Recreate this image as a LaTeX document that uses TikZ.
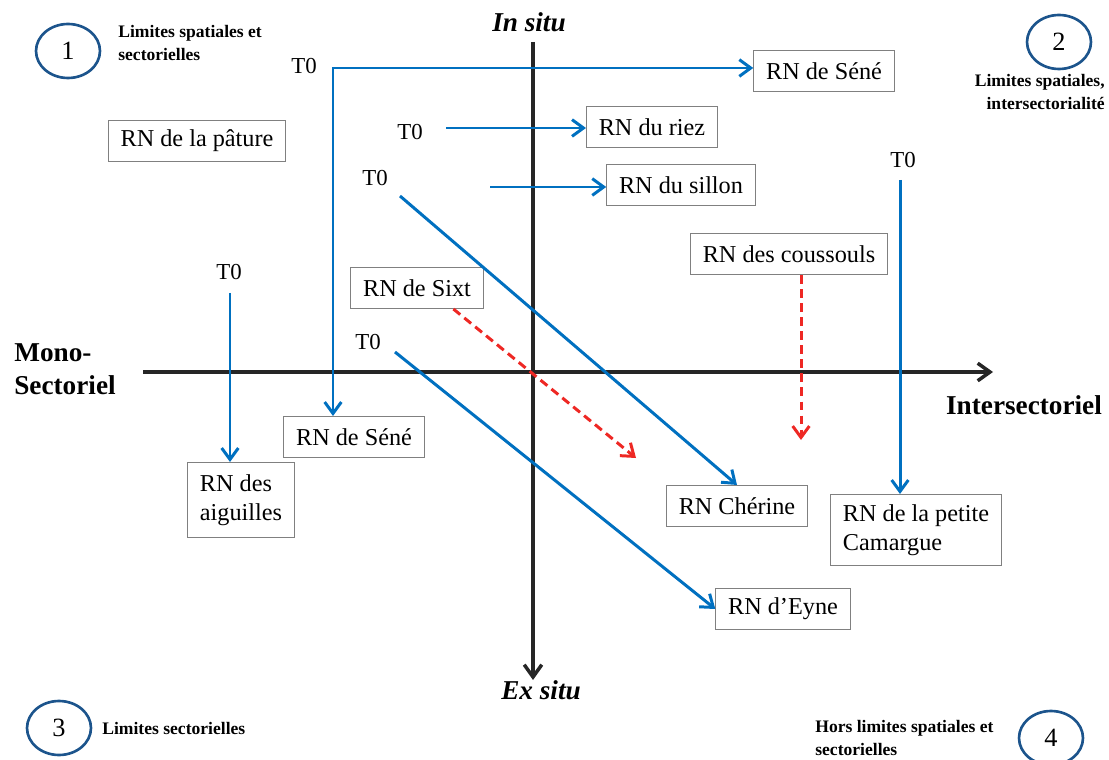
\documentclass[tikz,border=0pt]{standalone}
\usepackage{fontspec}
\setmainfont{Liberation Serif}
\usetikzlibrary{arrows.meta,shapes.geometric}
\definecolor{flowblue}{RGB}{0,112,192}
\definecolor{ringblue}{RGB}{28,84,140}
\definecolor{trendred}{RGB}{238,40,36}
\begin{document}
\begin{tikzpicture}[x=0.02cm,y=-0.02cm,
  rn/.style={draw=gray,line width=0.6pt,fill=white,inner xsep=7pt,
    minimum height=0.82cm,font=\fontsize{13.8}{16.5}\selectfont},
  tzero/.style={font=\fontsize{13}{15}\selectfont},
  ring/.style={ellipse,draw=ringblue,line width=1.5pt,minimum width=1.28cm,
    minimum height=1.08cm,inner sep=0pt,font=\fontsize{15}{17}\selectfont},
  zone/.style={font=\fontsize{10}{13}\selectfont\bfseries,inner sep=0pt},
  axislabel/.style={font=\fontsize{15.5}{19}\selectfont\bfseries,inner sep=0pt},
  tip/.style={-{Straight Barb[length=6.5pt,width=9.5pt]}},
  axis/.style={line width=2pt,black!85,-{Straight Barb[length=7pt,width=10pt]}},
  flow/.style={line width=1.7pt,flowblue,tip},
  trend/.style={line width=1.7pt,trendred,dash pattern=on 5pt off 3pt,tip}]
\useasboundingbox (0,0) rectangle (1109,760);

% axes
\coordinate (axW) at (143,372);
\coordinate (axE) at (993,372);
\coordinate (axN) at (533,42);
\coordinate (axS) at (533,680);
\draw[axis] (axW) -- (axE);
\draw[axis] (axN) -- (axS);
\node[axislabel,font=\fontsize{15.5}{19}\selectfont\bfseries\itshape] (insitu) at (529,22) {In situ};
\node[axislabel,font=\fontsize{15.5}{19}\selectfont\bfseries\itshape] (exsitu) at (541,690) {Ex situ};
\node[axislabel,anchor=west,align=left] (mono) at (14,369) {Mono-\\Sectoriel};
\node[axislabel] (inter) at (1024,405) {Intersectoriel};

% quadrants
\node[ring] (q1) at (68,51) {1};
\node[zone,anchor=north west,align=left] (q1txt) at (118,25) {Limites spatiales et\\sectorielles};
\node[ring] (q2) at (1059,42) {2};
\node[zone,anchor=north east,align=right] (q2txt) at (1105,74) {Limites spatiales,\\intersectorialit\'e};
\node[ring] (q3) at (59,728) {3};
\node[zone,anchor=west] (q3txt) at (102,728) {Limites sectorielles};
\node[ring] (q4) at (1051,738) {4};
\node[zone,anchor=north west,align=left] (q4txt) at (815,720) {Hors limites spatiales et\\sectorielles};

% reserves
\node[rn] (seneTop) at (824,71) {RN de S\'en\'e};
\node[rn] (riez) at (652,127) {RN du riez};
\node[rn] (sillon) at (681,185) {RN du sillon};
\node[rn] (pature) at (197,141) {RN de la p\^ature};
\node[rn] (coussouls) at (789,254) {RN des coussouls};
\node[rn] (sixt) at (417,288) {RN de Sixt};
\node[rn] (seneLow) at (354,437) {RN de S\'en\'e};
\node[rn,align=left,minimum height=1.5cm] (aiguilles) at (241,500) {RN des\\aiguilles};
\node[rn] (cherine) at (737,506) {RN Ch\'erine};
\node[rn,align=left,minimum height=1.42cm] (camargue) at (916,530) {RN de la petite\\Camargue};
\node[rn] (eyne) at (783,609) {RN d'Eyne};

% starting points
\node[tzero] (t0sene) at (304,66) {T0};
\node[tzero] (t0riez) at (410,132) {T0};
\node[tzero] (t0cherine) at (375,178) {T0};
\node[tzero] (t0aig) at (229,272) {T0};
\node[tzero] (t0camargue) at (903,160) {T0};
\node[tzero] (t0eyne) at (368,342) {T0};
\coordinate (seneFrom) at (333,68);
\coordinate (riezFrom) at (446,128);
\coordinate (sillonFrom) at (490,187);
\coordinate (cherineFrom) at (400,196);
\coordinate (aigFrom) at (230,293);
\coordinate (camargueFrom) at (900,180);
\coordinate (eyneFrom) at (395,352);
\coordinate (sixtTo) at (636,458);
\coordinate (coussoulsTo) at (801,440);

% trajectories
\draw[flow,{Straight Barb[length=6.5pt,width=9.5pt]}-{Straight Barb[length=6.5pt,width=9.5pt]}]
  (seneFrom -| seneTop.west) -- (seneFrom) -- (seneFrom |- seneLow.north);
\draw[flow] (riezFrom) -- (riezFrom -| riez.west);
\draw[flow] (sillonFrom) -- (sillonFrom -| sillon.west);
\draw[flow] (cherineFrom) -- (cherine.north);
\draw[flow] (aigFrom) -- (aigFrom |- aiguilles.north);
\draw[flow] (camargueFrom) -- (camargueFrom |- camargue.north);
\draw[flow] (eyneFrom) -- (eyne.west);
\draw[trend] (sixt.-30) -- (sixtTo);
\draw[trend] (coussoulsTo |- coussouls.south) -- (coussoulsTo);
\end{tikzpicture}
\end{document}
